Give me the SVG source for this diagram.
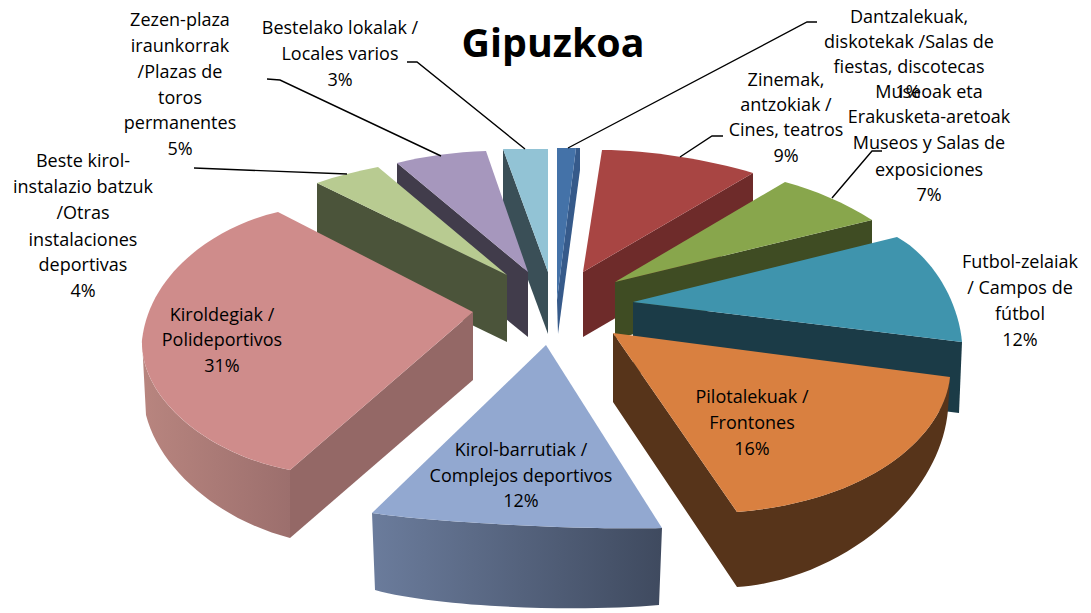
<svg xmlns="http://www.w3.org/2000/svg" width="1091" height="613" viewBox="0 0 1091 613">
<style>
.lbl{font-family:"Open Sans","Liberation Sans",sans-serif;font-size:18px;fill:#000;text-anchor:middle}
.title{font-family:"Open Sans","Liberation Sans",sans-serif;font-size:40px;font-weight:bold;fill:#000;text-anchor:middle}
.lead{stroke:#000;stroke-width:1.4;fill:none}
</style>
<defs>
<linearGradient id="gPink" gradientUnits="userSpaceOnUse" x1="142" y1="0" x2="290" y2="0">
<stop offset="0" stop-color="#B8857F"/><stop offset="1" stop-color="#9C6F6D"/>
</linearGradient>
<linearGradient id="gBlue" gradientUnits="userSpaceOnUse" x1="372" y1="0" x2="662" y2="0">
<stop offset="0" stop-color="#6B7C9C"/><stop offset="1" stop-color="#3F4A5F"/>
</linearGradient>
</defs>
<rect width="1091" height="613" fill="#FFFFFF"/>
<text class="title" x="553" y="57" textLength="183" lengthAdjust="spacingAndGlyphs">Gipuzkoa</text>

<g id="slice-locales">
<path d="M503,149 L548,272 L548,334 L503,212 Z" fill="#3A4F57"/>
<path d="M503,149 L548,149 L548,272 Z" fill="#92C3D5"/>
<text class="lbl" x="340" y="34">Bestelako lokalak /</text>
<text class="lbl" x="340" y="60">Locales varios</text>
<text class="lbl" x="340" y="86">3%</text>
</g>

<g id="slice-salas">
<path d="M576,148 L580,148 L580,170 L558,334 L557,300 Z" fill="#365A8A"/>
<path d="M557,148 L576,148 L557,300 Z" fill="#4472A8"/>
<text class="lbl" x="909" y="23">Dantzalekuak,</text>
<text class="lbl" x="909" y="48">diskotekak /Salas de</text>
<text class="lbl" x="909" y="73">fiestas, discotecas</text>
<text class="lbl" x="908" y="98">1%</text>
</g>

<g id="slice-plazas">
<path d="M397,163 L528,272 L528,337 L397,230 Z" fill="#413C4B"/>
<path d="M397,163 C425,156 455,152 486,151 L528,272 Z" fill="#A697BD"/>
<text class="lbl" x="180" y="26">Zezen-plaza</text>
<text class="lbl" x="180" y="52">iraunkorrak</text>
<text class="lbl" x="180" y="78">/Plazas de</text>
<text class="lbl" x="180" y="104">toros</text>
<text class="lbl" x="180" y="129">permanentes</text>
<text class="lbl" x="180" y="155">5%</text>
</g>

<g id="slice-otras">
<path d="M317,183 L507,275 L507,342 L317,250 Z" fill="#4B543A"/>
<path d="M317,183 C337,176 357,171 378,167 L507,275 Z" fill="#B8CB91"/>
<text class="lbl" x="83" y="167">Beste kirol-</text>
<text class="lbl" x="83" y="193">instalazio batzuk</text>
<text class="lbl" x="83" y="219">/Otras</text>
<text class="lbl" x="83" y="246">instalaciones</text>
<text class="lbl" x="83" y="271">deportivas</text>
<text class="lbl" x="83" y="297">4%</text>
</g>

<g id="slice-cines">
<path d="M753,173 L753,238 L583,337 L583,272 Z" fill="#6E2B2A"/>
<path d="M602,150 C650,150 710,160 753,173 L583,272 Z" fill="#A84543"/>
<text class="lbl" x="786" y="86">Zinemak,</text>
<text class="lbl" x="786" y="111">antzokiak /</text>
<text class="lbl" x="786" y="136">Cines, teatros</text>
<text class="lbl" x="786" y="162">9%</text>
</g>

<g id="slice-museos">
<path d="M615,282 L872,220 L872,258 L615,340 Z" fill="#3F4C23"/>
<path d="M615,282 L785,182 C815,190 845,203 872,220 Z" fill="#88A64C"/>
<text class="lbl" x="929" y="98">Museoak eta</text>
<text class="lbl" x="929" y="123">Erakusketa-aretoak</text>
<text class="lbl" x="929" y="149">Museos y Salas de</text>
<text class="lbl" x="929" y="176">exposiciones</text>
<text class="lbl" x="929" y="201">7%</text>
</g>

<g id="slice-futbol">
<path d="M633,302 L962,342 L959,413 L633,372 Z" fill="#1B3B47"/>
<path d="M633,302 L897,237 C930,255 958,298 962,342 Z" fill="#3F94AD"/>
<text class="lbl" x="1020" y="268">Futbol-zelaiak</text>
<text class="lbl" x="1020" y="294">/ Campos de</text>
<text class="lbl" x="1020" y="320">fútbol</text>
<text class="lbl" x="1020" y="346">12%</text>
</g>

<g id="slice-polideportivos">
<path d="M142,340 C140,400 210,455 290,470 L290,538 C220,520 160,470 146,415 Z" fill="url(#gPink)"/>
<path d="M290,470 L473,312 L473,380 L290,538 Z" fill="#946866"/>
<path d="M278,212 C220,225 150,270 142,340 C140,400 210,455 290,470 L473,312 Z" fill="#CF8C8B"/>
<text class="lbl" x="222" y="321">Kiroldegiak /</text>
<text class="lbl" x="222" y="346">Polideportivos</text>
<text class="lbl" x="222" y="372">31%</text>
</g>

<g id="slice-frontones">
<path d="M613,333 L737,512 C880,500 945,430 950,377 L948,410 C940,500 840,580 737,587 L613,402 Z" fill="#57341A"/>
<path d="M613,333 L950,377 C945,430 880,500 737,512 Z" fill="#D98040"/>
<text class="lbl" x="752" y="403">Pilotalekuak /</text>
<text class="lbl" x="752" y="429">Frontones</text>
<text class="lbl" x="752" y="455">16%</text>
</g>

<g id="slice-complejos">
<path d="M372,513 C430,522 580,530 662,528 L659,605 C580,612 440,608 375,590 Z" fill="url(#gBlue)"/>
<path d="M546,345 L372,513 C430,522 580,530 662,528 Z" fill="#92A8D0"/>
<text class="lbl" x="521" y="456">Kirol-barrutiak /</text>
<text class="lbl" x="521" y="482">Complejos deportivos</text>
<text class="lbl" x="521" y="507">12%</text>
</g>

<g id="connectors">
<path class="lead" d="M817,22 L807,22 L568,148"/>
<path class="lead" d="M723,136 L712,136 L680,157"/>
<path class="lead" d="M882,151 L872,151 L832,198"/>
<path class="lead" d="M407,62 L417,62 L525,149"/>
<path class="lead" d="M267,79 L280,80 L441,156"/>
<path class="lead" d="M194,168 L347,174"/>
</g>
</svg>
